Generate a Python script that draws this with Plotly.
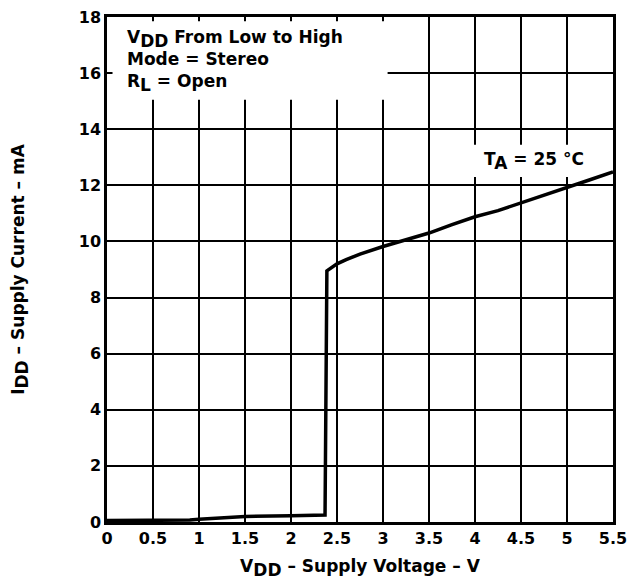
import plotly.graph_objects as go

# Supply voltage (V) and supply current (mA)
vdd = [0.0, 0.5, 0.9, 1.0, 1.2, 1.5, 2.0, 2.37, 2.39, 2.45, 2.5, 2.6, 2.75, 3.0, 3.25,
       3.5, 3.75, 4.0, 4.25, 4.5, 4.75, 5.0, 5.25, 5.5]
idd = [0.05, 0.05, 0.07, 0.1, 0.15, 0.2, 0.22, 0.25, 8.95, 9.1, 9.2, 9.35, 9.55, 9.82, 10.05,
       10.3, 10.6, 10.88, 11.1, 11.37, 11.65, 11.9, 12.2, 12.48]

x_ticks = [0, 0.5, 1, 1.5, 2, 2.5, 3, 3.5, 4, 4.5, 5, 5.5]
x_labels = ["0", "0.5", "1", "1.5", "2", "2.5", "3", "3.5", "4", "4.5", "5", "5.5"]
y_ticks = [0, 2, 4, 6, 8, 10, 12, 14, 16, 18]

FONT = "DejaVu Sans, sans-serif"


def sub(s, size=17):
    return f"<sub><span style='font-size:{size}px'>{s}</span></sub>"


fig = go.Figure()
fig.add_trace(go.Scatter(x=vdd, y=idd, mode="lines",
                         line=dict(color="black", width=3.5), showlegend=False,
                         hoverinfo="skip"))

# white boxes hiding the grid behind the labels
fig.add_shape(type="rect", xref="x", yref="y", x0=0.06, x1=3.05, y0=15.05, y1=17.85,
              fillcolor="white", line=dict(width=0), layer="between")
fig.add_shape(type="rect", xref="x", yref="y", x0=3.88, x1=5.47, y0=12.3, y1=13.45,
              fillcolor="white", line=dict(width=0), layer="between")

fig.add_annotation(xref="x", yref="y", x=0.2, y=17.7, xanchor="left", yanchor="top",
                   align="left", showarrow=False,
                   text=f"V{sub('DD')} From Low to High<br>Mode = Stereo<br>R{sub('L')} = Open",
                   font=dict(family=FONT, size=17, color="black", weight="bold"))
fig.add_annotation(xref="x", yref="y", x=4.64, y=12.85, xanchor="center", yanchor="middle",
                   showarrow=False,
                   text=f"T{sub('A')} = 25 °C",
                   font=dict(family=FONT, size=17, color="black", weight="bold"))

fig.update_layout(
    width=632, height=582,
    margin=dict(l=107, r=19, t=17, b=60, autoexpand=False),
    paper_bgcolor="white", plot_bgcolor="white",
    font=dict(family=FONT, size=16, color="black", weight="bold"),
    xaxis=dict(range=[0, 5.5], tickvals=x_ticks, ticktext=x_labels,
               showgrid=True, gridcolor="black", gridwidth=2,
               showline=True, linecolor="black", linewidth=2.5, mirror=True,
               ticks="", zeroline=False, automargin=False,
               title=dict(text=f"V{sub('DD')} – Supply Voltage – V", standoff=14,
                          font=dict(size=17, family=FONT, weight="bold"))),
    yaxis=dict(range=[0, 18], tickvals=y_ticks,
               showgrid=True, gridcolor="black", gridwidth=2,
               showline=True, linecolor="black", linewidth=2.5, mirror=True,
               ticks="", zeroline=False, automargin=False,
               title=dict(text=f"I{sub('DD')} – Supply Current – mA", standoff=50,
                          font=dict(size=17, family=FONT, weight="bold"))),
)

fig.write_html("out.html", config={"displayModeBar": False},
               post_script="document.body.style.margin='0';")
